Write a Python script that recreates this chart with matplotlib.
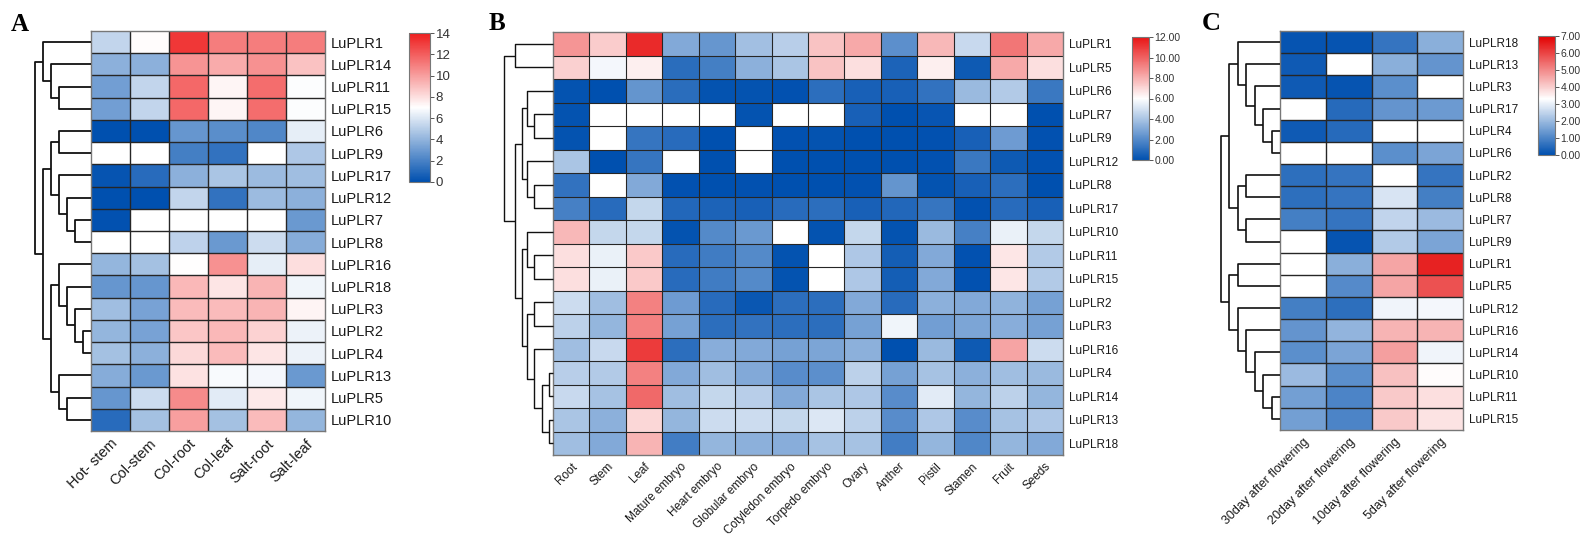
import numpy as np
import matplotlib
matplotlib.use("Agg")
import matplotlib.pyplot as plt
from matplotlib.colors import LinearSegmentedColormap, Normalize

nan = np.nan

# ---------------- Panel A data ----------------
genes_a = ["LuPLR1", "LuPLR14", "LuPLR11", "LuPLR15", "LuPLR6", "LuPLR9", "LuPLR17",
           "LuPLR12", "LuPLR7", "LuPLR8", "LuPLR16", "LuPLR18", "LuPLR3", "LuPLR2",
           "LuPLR4", "LuPLR13", "LuPLR5", "LuPLR10"]
conds_a = ["Hot- stem", "Col-stem", "Col-root", "Col-leaf", "Salt-root", "Salt-leaf"]
values_a = [
    [5.35, 7.1, 13.2, 11.0, 11.0, 11.0],
    [3.85, 3.85, 10.3, 9.6, 10.4, 8.9],
    [3.15, 5.35, 11.7, 7.3, 11.5, 6.9],
    [3.15, 5.35, 11.7, 7.3, 11.5, 6.9],
    [0.0, 0.0, 2.8, 2.5, 2.2, 6.3],
    [nan, nan, 1.9, 1.4, nan, 4.8],
    [0.2, 1.1, 3.85, 4.7, 4.3, 4.4],
    [0.0, 0.0, 5.35, 1.4, 4.3, 3.85],
    [0.1, nan, nan, nan, nan, 2.9],
    [nan, nan, 5.2, 2.9, 5.6, 3.7],
    [4.1, 4.5, 7.0, 10.4, 6.3, 8.0],
    [2.8, 2.8, 9.2, 7.8, 9.3, 6.6],
    [4.4, 3.3, 9.1, 9.1, 9.3, 7.35],
    [4.1, 3.3, 8.8, 9.2, 8.4, 6.5],
    [4.5, 3.85, 8.2, 9.1, 7.8, 6.5],
    [3.7, 2.9, 7.9, 6.8, 6.7, 2.9],
    [2.8, 5.6, 10.6, 6.2, 7.7, 6.6],
    [1.1, 4.5, 10.0, 4.5, 9.1, 4.1],
]
# linkage rows: (left, right, height); leaves are 0..n-1 in display order
linkage_a = [(2, 3, 4), (1, 18, 5), (0, 19, 6), (4, 5, 4), (8, 9, 2), (7, 22, 3),
             (6, 23, 4), (21, 24, 5), (13, 14, 1), (12, 26, 2), (11, 27, 3),
             (10, 28, 4), (16, 17, 3), (15, 30, 4), (29, 31, 5), (25, 32, 6),
             (20, 33, 7)]
cbar_ticks_a = [0, 2, 4, 6, 8, 10, 12, 14]

# ---------------- Panel B data ----------------
genes_b = ["LuPLR1", "LuPLR5", "LuPLR6", "LuPLR7", "LuPLR9", "LuPLR12", "LuPLR8",
           "LuPLR17", "LuPLR10", "LuPLR11", "LuPLR15", "LuPLR2", "LuPLR3", "LuPLR16",
           "LuPLR4", "LuPLR14", "LuPLR13", "LuPLR18"]
tissues_b = ["Root", "Stem", "Leaf", "Mature embryo", "Heart embryo", "Globular embryo",
             "Cotyledon embryo", "Torpedo embryo", "Ovary", "Anther", "Pistil",
             "Stamen", "Fruit", "Seeds"]
values_b = [
    [8.7, 7.3, 11.4, 3.05, 2.4, 3.8, 4.35, 7.5, 8.2, 2.2, 7.8, 4.7, 9.5, 8.2],
    [7.2, 5.75, 6.4, 1.0, 1.6, 3.3, 4.0, 7.5, 6.8, 0.7, 6.4, 0.35, 8.2, 6.8],
    [0.1, 0.0, 2.35, 1.0, 0.1, 0.1, 0.05, 1.05, 0.6, 0.6, 1.2, 3.65, 4.2, 1.4],
    [0.1, nan, nan, nan, nan, 0.1, nan, nan, 0.6, 0.0, 0.2, nan, nan, 0.0],
    [0.1, nan, 1.3, 0.95, 0.0, nan, 0.05, 0.1, 0.0, 0.0, 0.05, 0.6, 2.6, 0.05],
    [4.0, 0.0, 1.3, nan, 0.0, nan, 0.0, 0.0, 0.0, 0.0, 0.05, 1.4, 0.35, 0.05],
    [1.2, nan, 3.05, 0.05, 0.0, 0.05, 0.0, 0.0, 0.05, 2.35, 0.1, 0.6, 1.05, 0.0],
    [1.65, 0.95, 4.6, 0.8, 0.7, 0.6, 0.95, 1.05, 0.6, 0.8, 1.3, 0.05, 0.95, 0.6],
    [7.8, 4.6, 4.6, 0.1, 2.0, 2.5, nan, 0.1, 4.6, 0.1, 3.65, 1.65, 5.5, 4.6],
    [6.8, 5.5, 7.4, 0.95, 1.5, 2.0, 0.1, nan, 4.1, 0.5, 3.05, 0.05, 6.65, 4.2],
    [6.8, 5.5, 7.4, 0.95, 1.5, 2.0, 0.1, nan, 4.1, 0.5, 3.05, 0.05, 6.65, 4.2],
    [4.8, 3.75, 9.2, 2.6, 0.95, 0.25, 1.05, 1.05, 3.05, 0.95, 3.3, 3.05, 3.4, 2.8],
    [4.45, 3.5, 9.2, 2.8, 1.05, 1.2, 1.05, 1.05, 2.8, 5.65, 2.7, 2.95, 3.2, 2.8],
    [3.75, 4.7, 11.0, 1.05, 3.2, 3.05, 2.8, 2.95, 3.3, 0.0, 3.65, 0.35, 8.3, 4.8],
    [4.35, 4.2, 9.2, 3.05, 3.75, 3.05, 2.1, 2.2, 4.45, 2.8, 3.9, 3.3, 3.75, 3.65],
    [4.7, 3.9, 9.8, 3.75, 4.6, 4.35, 3.05, 4.0, 4.1, 2.1, 5.3, 3.5, 4.45, 3.5],
    [4.0, 3.3, 7.0, 3.5, 4.8, 4.8, 4.6, 5.2, 4.45, 2.1, 4.1, 2.1, 3.9, 4.1],
    [3.75, 3.05, 7.9, 1.55, 3.5, 3.3, 3.2, 3.9, 3.9, 1.55, 3.5, 1.9, 3.5, 3.05],
]
linkage_b = [(3, 4, 1.9), (2, 18, 2.6), (6, 7, 1.9), (5, 20, 2.6), (19, 21, 3.1),
             (9, 10, 1.9), (8, 23, 2.6), (11, 12, 1.9), (14, 15, 0.4), (16, 17, 0.4),
             (26, 27, 1.1), (13, 28, 1.9), (25, 29, 2.6), (24, 30, 3.1), (22, 31, 3.8),
             (0, 1, 3.8), (33, 32, 4.9)]
cbar_ticks_b = [0, 2, 4, 6, 8, 10, 12]

# ---------------- Panel C data ----------------
genes_c = ["LuPLR18", "LuPLR13", "LuPLR3", "LuPLR17", "LuPLR4", "LuPLR6", "LuPLR2",
           "LuPLR8", "LuPLR7", "LuPLR9", "LuPLR1", "LuPLR5", "LuPLR12", "LuPLR16",
           "LuPLR14", "LuPLR10", "LuPLR11", "LuPLR15"]
stages_c = ["30day after flowering", "20day after flowering",
            "10day after flowering", "5day after flowering"]
values_c = [
    [0.1, 0.1, 0.7, 1.8],
    [0.2, nan, 1.8, 1.3],
    [0.2, 0.1, 1.2, nan],
    [nan, 0.5, 1.3, 1.4],
    [0.2, 0.5, nan, nan],
    [nan, nan, 1.2, 1.6],
    [0.6, 0.7, nan, 0.7],
    [0.6, 0.7, 2.8, 0.9],
    [0.9, 0.7, 2.5, 2.0],
    [nan, 0.1, 2.3, 1.6],
    [nan, 1.8, 4.6, 6.5],
    [nan, 1.1, 4.6, 5.8],
    [0.9, 0.6, 3.1, 3.15],
    [1.3, 1.9, 4.4, 4.4],
    [1.2, 1.6, 4.7, 3.1],
    [2.0, 1.2, 4.2, 3.35],
    [1.5, 1.0, 4.1, 3.75],
    [1.5, 1.0, 4.1, 3.7],
]
linkage_c = [(4, 5, 1), (3, 18, 2), (2, 19, 3), (1, 20, 4), (0, 21, 5), (6, 7, 4),
             (8, 9, 4), (23, 24, 5), (22, 25, 6), (10, 11, 5), (16, 17, 1),
             (15, 28, 2), (14, 29, 3), (13, 30, 4), (12, 31, 5), (27, 32, 6),
             (26, 33, 7)]
cbar_ticks_c = [0, 1, 2, 3, 4, 5, 6, 7]

# ---------------- drawing ----------------
W, H = 1587, 556
fig = plt.figure(figsize=(W / 100, H / 100), dpi=100)
SANS = ["Liberation Sans", "DejaVu Sans"]
SERIF = ["Liberation Serif", "DejaVu Serif"]
TXT = "#1a1a1a"


def rect(x0, y0, x1, y1):
    return [x0 / W, 1 - y1 / H, (x1 - x0) / W, (y1 - y0) / H]


def make_cmap(name, red, white_pos):
    return LinearSegmentedColormap.from_list(
        name, [(0.0, "#0050AF"), (white_pos, "#FFFFFF"), (1.0, red)])


def heat(box, data, labels_r, labels_c, cmap, vmax, lw, rfs, cfs):
    ax = fig.add_axes(rect(*box))
    arr = np.ma.masked_invalid(np.array(data, dtype=float))
    cm = cmap.copy()
    cm.set_bad("white")
    mesh = ax.pcolormesh(arr, cmap=cm, norm=Normalize(0, vmax))
    nr, nc = arr.shape
    ax.set_xlim(0, nc)
    ax.set_ylim(nr, 0)
    ax.hlines(np.arange(1, nr), 0, nc, color="#262626", lw=lw)
    ax.vlines(np.arange(1, nc), 0, nr, color="#262626", lw=lw)
    for s in ax.spines.values():
        s.set_color("#777777")
        s.set_linewidth(1.0)
    ax.set_yticks(np.arange(nr) + 0.5)
    ax.set_yticklabels(labels_r, fontsize=rfs, family=SANS, color=TXT)
    ax.yaxis.tick_right()
    ax.set_xticks(np.arange(nc) + 0.5)
    ax.set_xticklabels(labels_c, fontsize=cfs, family=SANS, color=TXT,
                       rotation=45, ha="right", rotation_mode="anchor")
    ax.tick_params(length=0, pad=4)
    return mesh, nr


def dendro(box, linkage, n, hmax, lw):
    ax = fig.add_axes(rect(*box))
    pos = {i: i + 0.5 for i in range(n)}
    hh = {i: 0.0 for i in range(n)}
    for k, (a, b, h) in enumerate(linkage):
        ax.plot([hh[a], h, h, hh[b]], [pos[a], pos[a], pos[b], pos[b]],
                color="#111111", lw=lw, solid_capstyle="butt", clip_on=False)
        pos[n + k] = (pos[a] + pos[b]) / 2
        hh[n + k] = h
    ax.set_xlim(hmax, 0)
    ax.set_ylim(n, 0)
    ax.axis("off")


def cbar(box, mesh, ticks, fmt, fs):
    cax = fig.add_axes(rect(*box))
    cb = fig.colorbar(mesh, cax=cax, ticks=ticks)
    cb.outline.set_edgecolor("#777777")
    cb.outline.set_linewidth(0.8)
    cb.ax.set_yticklabels([fmt.format(t) for t in ticks], fontsize=fs,
                          family=SANS, color="#333333")
    cb.ax.tick_params(length=3, width=0.7, color="#555555", pad=1)


# Panel A
mesh_a, na = heat((91, 31, 325, 431), values_a, genes_a, conds_a,
                  make_cmap("a", "#EE1E1E", 0.5), 14, 1.0, 10.5, 10.5)
dendro((35, 31, 91, 431), linkage_a, na, 7, 1.3)
cbar((409, 33, 430, 182), mesh_a, cbar_ticks_a, "{:d}", 9.5)
fig.text(11 / W, 1 - 31 / H, "A", family=SERIF, fontweight="bold", fontsize=18,
         va="baseline")

# Panel B
mesh_b, nb = heat((553, 32, 1063, 455), values_b, genes_b, tissues_b,
                  make_cmap("b", "#E81414", 0.5), 12, 0.8, 8.5, 8.5)
dendro((504, 32, 553, 455), linkage_b, nb, 4.9, 1.0)
cbar((1132, 37, 1149, 160), mesh_b, cbar_ticks_b, "{:.2f}", 7.5)
fig.text(489 / W, 1 - 30 / H, "B", family=SERIF, fontweight="bold", fontsize=18,
         va="baseline")

# Panel C
mesh_c, nc_ = heat((1280, 31, 1463, 430), values_c, genes_c, stages_c,
                   make_cmap("c", "#E30000", 3.3 / 7), 7, 1.0, 8.5, 9)
dendro((1221, 31, 1280, 430), linkage_c, nc_, 7, 1.2)
cbar((1538, 36, 1555, 155), mesh_c, cbar_ticks_c, "{:.2f}", 7.5)
fig.text(1202 / W, 1 - 30 / H, "C", family=SERIF, fontweight="bold", fontsize=19,
         va="baseline")

fig.savefig("out.png", dpi=100)
